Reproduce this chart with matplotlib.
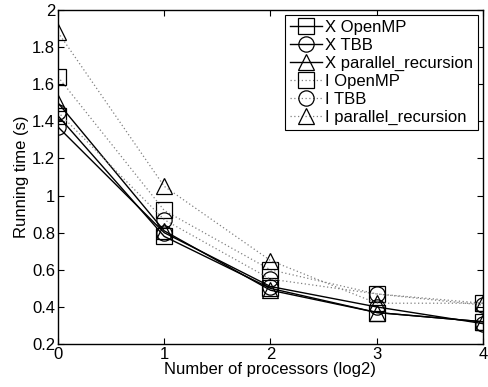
import matplotlib.pyplot as plt
from matplotlib.ticker import FuncFormatter

plt.rcParams['font.family'] = ['Liberation Sans', 'DejaVu Sans']
plt.rcParams['font.size'] = 12

procs = [0, 1, 2, 3, 4]

x_openmp = [1.43, 0.78, 0.50, 0.37, 0.32]
x_tbb = [1.37, 0.80, 0.51, 0.40, 0.31]
x_parrec = [1.50, 0.81, 0.49, 0.37, 0.32]
i_openmp = [1.64, 0.92, 0.60, 0.47, 0.42]
i_tbb = [1.45, 0.87, 0.55, 0.47, 0.41]
i_parrec = [1.88, 1.05, 0.65, 0.42, 0.42]

fig = plt.figure(figsize=(4.89, 3.87), dpi=100)
ax = fig.add_axes([0.1186, 0.111, 0.8691, 0.863])

mk = dict(markersize=11, markerfacecolor='none', markeredgecolor='k', markeredgewidth=0.9)
ax.plot(procs, x_openmp, 'k-', lw=1, marker='s', label='X OpenMP', **mk)
ax.plot(procs, x_tbb, 'k-', lw=1, marker='o', label='X TBB', **mk)
ax.plot(procs, x_parrec, 'k-', lw=1, marker='^', label='X parallel_recursion', **mk)
dot = dict(color='0.5', lw=0.9, dashes=(1, 2))
ax.plot(procs, i_openmp, marker='s', label='I OpenMP', **dot, **mk)
ax.plot(procs, i_tbb, marker='o', label='I TBB', **dot, **mk)
ax.plot(procs, i_parrec, marker='^', label='I parallel_recursion', **dot, **mk)

ax.set_xlim(0, 4)
ax.set_ylim(0.2, 2)
ax.set_xticks(procs)
ax.set_yticks([0.2, 0.4, 0.6, 0.8, 1.0, 1.2, 1.4, 1.6, 1.8, 2.0])
ax.yaxis.set_major_formatter(FuncFormatter(lambda v, p: '%g' % round(v, 1)))
ax.tick_params(direction='in', top=True, right=True, length=4, width=0.8, pad=2)
for s in ax.spines.values():
    s.set_linewidth(1)

ax.set_xlabel('Number of processors (log2)', labelpad=0)
ax.set_ylabel('Running time (s)', labelpad=2)

leg = ax.legend(loc='upper right', fancybox=False, framealpha=1, edgecolor='k',
                handlelength=1.9, handletextpad=0.2, labelspacing=0.17,
                borderpad=0.3, borderaxespad=0.3, fontsize=12)
leg.get_frame().set_linewidth(0.8)

plt.savefig('out.png', dpi=100)
